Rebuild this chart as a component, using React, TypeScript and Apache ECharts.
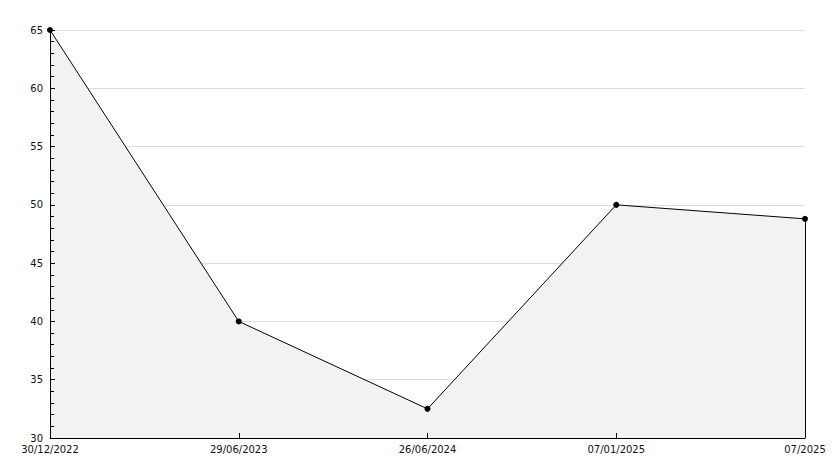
import React, { useEffect, useRef } from "react";
import * as echarts from "echarts";

const categories = ["30/12/2022", "29/06/2023", "26/06/2024", "07/01/2025", "07/2025"];
const values = [65, 40, 32.5, 50, 48.8];
const yMin = 30;
const yMax = 65;
const yInterval = 5;

export default function App() {
  const ref = useRef<HTMLDivElement>(null);
  useEffect(() => {
    if (!ref.current) return;
    const chart = echarts.init(ref.current, undefined, { renderer: "svg" });
    const lastIdx = categories.length - 1;
    const labelStyle = { color: "#111", fontFamily: "DejaVu Sans", fontSize: 10 };
    chart.setOption({
      animation: false,
      grid: { left: 50, right: 29, top: 30, bottom: 30, containLabel: false },
      xAxis: {
        type: "category",
        data: categories,
        boundaryGap: false,
        z: 10,
        axisLine: { lineStyle: { color: "#000", width: 1 } },
        axisTick: { inside: true, length: 5, lineStyle: { color: "#000" } },
        axisLabel: { ...labelStyle, margin: 6, interval: 0 },
        splitLine: { show: false },
      },
      yAxis: [
        {
          type: "value",
          min: yMin,
          max: yMax,
          interval: yInterval,
          z: 0,
          axisLine: { show: false },
          axisTick: { show: false },
          axisLabel: { show: false },
          splitLine: { show: true, lineStyle: { color: "#dddddd", width: 1 } },
        },
        {
          type: "value",
          position: "left",
          min: yMin,
          max: yMax,
          interval: yInterval,
          z: 10,
          axisLine: { show: true, lineStyle: { color: "#000", width: 1 } },
          axisTick: { show: true, inside: true, length: 5, lineStyle: { color: "#000" } },
          minorTick: { show: true, splitNumber: 5, length: 4, lineStyle: { color: "#000" } },
          axisLabel: { ...labelStyle, margin: 7 },
          splitLine: { show: false },
        },
      ],
      series: [
        {
          type: "line",
          yAxisIndex: 0,
          data: values,
          symbol: "circle",
          symbolSize: 6,
          z: 5,
          itemStyle: { color: "#000" },
          lineStyle: { color: "#000", width: 1 },
          areaStyle: { color: "#f2f2f2", opacity: 1 },
          markLine: {
            silent: true,
            symbol: "none",
            label: { show: false },
            lineStyle: { color: "#000", width: 1, type: "solid" },
            data: [
              [
                { coord: [lastIdx, values[lastIdx]] },
                { coord: [lastIdx, yMin] },
              ],
            ],
          },
        },
      ],
    });
    return () => chart.dispose();
  }, []);
  return <div ref={ref} style={{ width: 834, height: 468, marginLeft: -8, marginTop: -8 }} />;
}
